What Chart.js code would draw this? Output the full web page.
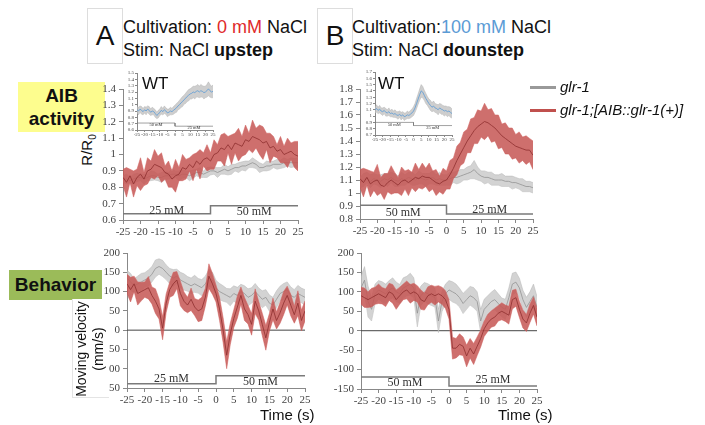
<!DOCTYPE html>
<html>
<head>
<meta charset="utf-8">
<script src="https://cdn.jsdelivr.net/npm/chart.js@4.4.0/dist/chart.umd.min.js"></script>
<style>
  body { margin: 0; background: #fff; width: 705px; height: 425px; overflow: hidden; position: relative;
         font-family: "Liberation Sans", Arial, sans-serif; color: #111; }
  .abs { position: absolute; white-space: nowrap; }
  canvas { position: absolute; }
  .letter { border: 1px solid #ddd; text-align: center; font-size: 28px; }
  .head { font-size: 18px; line-height: 23px; }
  .tag { font-weight: bold; font-size: 19px; text-align: center; }
  .rot { transform: rotate(-90deg); transform-origin: center center; text-align: center; }
  .leg { font-style: italic; font-size: 15px; }
</style>
</head>
<body>

<div class="abs letter" style="left:87px;top:8px;width:34px;height:54px;line-height:54px;">A</div>
<div class="abs head" style="left:123px;top:16px;">Cultivation: <span style="color:#e02a2a">0 mM</span> NaCl<br>Stim: NaCl <b>upstep</b></div>
<div class="abs letter" style="left:317px;top:8px;width:34px;height:54px;line-height:54px;">B</div>
<div class="abs head" style="left:352px;top:16px;">Cultivation:<span style="color:#5b9bd5">100 mM</span> NaCl<br>Stim: NaCl <b>dounstep</b></div>

<div class="abs tag" style="left:18px;top:82px;width:87px;height:50px;line-height:23px;background:#fdfd8e;padding-top:2px;box-sizing:border-box;">AIB<br>activity</div>
<div class="abs rot" style="left:68px;top:140px;width:40px;height:20px;font-size:15px;">R/R<sub style="font-size:10px">0</sub></div>
<div class="abs tag" style="left:9px;top:270px;width:93px;height:30px;line-height:30px;background:#9bbb59;">Behavior</div>

<canvas id="actUp" width="230" height="160" style="left:78px;top:80px;"></canvas>
<canvas id="actDown" width="228" height="159" style="left:315px;top:80px;"></canvas>
<canvas id="velUp" width="238" height="165" style="left:77px;top:245px;"></canvas>
<canvas id="velDown" width="236" height="166" style="left:311px;top:245px;"></canvas>
<canvas id="wtUpC" width="96" height="74" style="left:125px;top:66px;"></canvas>
<canvas id="wtDownC" width="98" height="80" style="left:362px;top:65px;"></canvas>

<div class="abs" style="left:142px;top:74px;font-size:17px;">WT</div>
<div class="abs" style="left:378px;top:74px;font-size:17px;">WT</div>

<div class="abs" style="left:72px;top:299px;width:36px;height:98px;background:#fff;border-left:1px solid #e4e4e4;border-bottom:1px solid #e4e4e4;"></div>
<div class="abs rot" style="left:38px;top:332px;width:104px;height:34px;font-size:14px;line-height:17px;">Moving velocity<br>(mm/s)</div>

<div class="abs" style="left:260px;top:406px;width:50px;text-align:right;font-size:15px;">Time (s)</div>
<div class="abs" style="left:498px;top:406px;width:50px;text-align:right;font-size:15px;">Time (s)</div>

<div class="abs" style="left:530px;top:86px;width:26px;height:3px;background:#999;"></div>
<div class="abs leg" style="left:560px;top:78px;">glr-1</div>
<div class="abs" style="left:530px;top:109px;width:26px;height:3px;background:#c0504d;"></div>
<div class="abs leg" style="left:560px;top:101px;">glr-1;[AIB::glr-1(+)]</div>

<script>
// time axis (s)
var times = [-25,-24,-23,-22,-21,-20,-19,-18,-17,-16,-15,-14,-13,-12,-11,-10,-9,-8,-7,-6,-5,-4,-3,-2,-1,
             0,1,2,3,4,5,6,7,8,9,10,11,12,13,14,15,16,17,18,19,20,21,22,23,24,25];

// AIB activity, upstep (A)
var upRed = [0.86,0.83,0.87,0.82,0.86,0.88,0.85,0.90,0.91,0.94, 0.93,0.92,0.89,0.88,0.85,0.87,0.88,0.92,0.91,0.94,
             0.92,0.96,0.94,0.97,0.98,0.96,1.00,1.01,1.04,1.03, 1.06,1.03,1.07,1.06,1.05,1.09,1.08,1.11,1.10,1.09,
             1.07,1.08,1.04,1.05,1.02,1.03,1.00,1.01,1.02,1.00, 0.99];
var upRedErr = [0.05,0.09,0.04,0.08,0.05,0.10,0.04,0.08,0.05,0.09, 0.06,0.09,0.04,0.08,0.05,0.10,0.04,0.08,0.06,0.04,
                0.08,0.05,0.09,0.04,0.08,0.05,0.09,0.05,0.08,0.10, 0.05,0.09,0.06,0.10,0.06,0.09,0.05,0.10,0.06,0.09,
                0.10,0.05,0.09,0.06,0.04,0.08,0.05,0.09,0.05,0.08, 0.09];
var upGray = [0.85,0.85,0.84,0.85,0.86,0.86,0.85,0.86,0.87,0.87, 0.86,0.86,0.87,0.87,0.88,0.88,0.87,0.88,0.88,0.87,
              0.88,0.89,0.89,0.88,0.89,0.90,0.90,0.89,0.90,0.91, 0.90,0.91,0.92,0.92,0.93,0.93,0.94,0.95,0.94,0.92,
              0.92,0.93,0.93,0.94,0.94,0.94,0.95,0.95,0.95,0.95, 0.95];
var upGrayErr = [0.02,0.03,0.02,0.03,0.025,0.02,0.03,0.02,0.03,0.025, 0.02,0.03,0.025,0.02,0.03,0.02,0.03,0.025,0.02,0.03,
                 0.025,0.02,0.03,0.02,0.03,0.025,0.02,0.03,0.02,0.03, 0.025,0.03,0.02,0.03,0.025,0.03,0.02,0.03,0.025,0.03,
                 0.02,0.03,0.025,0.02,0.03,0.025,0.03,0.02,0.03,0.025, 0.03];

// AIB activity, downstep (B)
var downRed = [1.11,1.08,1.12,1.07,1.09,1.10,1.06,1.05,1.08,1.10, 1.08,1.06,1.09,1.10,1.08,1.10,1.12,1.11,1.13,1.12,
               1.12,1.10,1.08,1.07,1.09,1.10,1.14,1.19,1.25,1.30, 1.35,1.40,1.44,1.48,1.51,1.53,1.55,1.54,1.52,1.50,
               1.47,1.44,1.42,1.40,1.38,1.36,1.35,1.34,1.33,1.33, 1.29];
var downRedErr = [0.07,0.11,0.06,0.10,0.07,0.12,0.06,0.10,0.07,0.11, 0.08,0.06,0.11,0.07,0.10,0.06,0.11,0.07,0.10,0.07,
                  0.11,0.07,0.10,0.06,0.10,0.07,0.11,0.08,0.11,0.09, 0.12,0.09,0.13,0.10,0.13,0.10,0.14,0.10,0.13,0.10,
                  0.13,0.09,0.12,0.10,0.12,0.09,0.12,0.09,0.11,0.09, 0.11];
var downGray = [1.08,1.10,1.12,1.09,1.11,1.10,1.09,1.11,1.10,1.12, 1.10,1.09,1.11,1.10,1.12,1.11,1.10,1.12,1.11,1.10,
                1.11,1.12,1.10,1.11,1.10,1.10,1.11,1.12,1.12,1.13, 1.14,1.15,1.16,1.18,1.15,1.13,1.12,1.12,1.11,1.10,
                1.10,1.10,1.09,1.09,1.08,1.08,1.07,1.06,1.05,1.05, 1.04];
var downGrayErr = [0.04,0.05,0.04,0.05,0.04,0.04,0.05,0.04,0.05,0.04, 0.05,0.04,0.05,0.04,0.04,0.05,0.04,0.05,0.04,0.05,
                   0.04,0.05,0.04,0.05,0.04,0.04,0.05,0.04,0.05,0.05, 0.04,0.05,0.05,0.07,0.05,0.04,0.05,0.04,0.05,0.04,
                   0.04,0.05,0.04,0.04,0.05,0.04,0.04,0.05,0.04,0.04, 0.04];

// Moving velocity (mm/s)
var velUpRed = [120,105,120,95,100,105,110,90,75,55, 5,70,105,120,130,95,75,65,80,60,
                50,55,85,140,120,95,55,0,-65,-10, 30,60,90,55,40,15,75,50,15,-20,
                20,55,25,45,70,90,65,40,70,25, 50];
var velUpRedErr = [25,32,20,30,24,20,29,22,32,26, 30,24,20,30,22,32,24,20,29,22,
                   28,30,23,32,27,22,30,32,35,28, 23,29,22,30,24,28,32,24,29,32,
                   23,28,22,27,30,24,28,22,32,27, 26];
var velUpGray = [135,125,115,120,125,130,135,145,160,165, 160,150,140,135,140,130,125,120,115,120,
                 115,110,120,135,130,110,100,95,90,85, 95,90,100,95,85,90,100,90,80,85,
                 70,65,80,95,100,105,90,85,95,90, 85];
var velUpGrayErr = [20,22,18,20,22,19,21,20,22,20, 21,19,20,22,18,20,21,19,20,22,
                    19,21,20,22,20,19,21,20,18,22, 20,21,19,20,22,20,21,19,22,20,
                    21,20,22,19,21,20,22,20,21,19, 20];
var velDownRed = [90,85,80,85,90,95,90,85,100,95, 80,90,100,105,95,100,95,80,75,90,
                  95,90,95,90,80,55,-45,-45,-35,-40, -65,-45,-60,-40,-20,5,20,30,35,45,
                  50,45,40,80,85,55,30,20,45,65, 35];
var velDownRedErr = [22,25,20,24,22,25,21,23,22,24, 25,22,20,23,24,22,21,25,22,23,
                     22,24,21,22,23,25,28,25,27,24, 28,25,27,24,22,20,22,21,23,20,
                     22,21,23,24,22,21,23,22,24,22, 23];
var velDownGray = [110,130,75,55,95,105,100,95,105,110, 100,95,110,115,120,110,45,90,100,95,
                   90,85,25,75,95,105,100,95,85,70, 80,90,85,75,25,55,65,75,80,70,
                   60,55,85,120,125,110,80,60,75,90, 60];
var velDownGrayErr = [30,35,40,30,25,24,26,25,24,26, 25,24,26,25,28,26,35,25,24,26,
                      25,24,30,26,25,24,26,25,24,26, 25,24,26,25,30,26,25,24,26,25,
                      24,26,25,28,26,25,24,26,25,30, 28];

// WT insets
var wtUp = [0.92,0.90,0.93,0.91,0.89,0.92,0.90,0.93,0.91,0.88, 0.90,0.89,0.86,0.83,0.85,0.88,0.91,0.89,0.92,0.90,
            0.87,0.88,0.90,0.89,0.91,0.93,0.95,0.98,1.00,1.03, 1.05,1.08,1.10,1.13,1.15,1.17,1.18,1.20,1.19,1.21,
            1.22,1.20,1.22,1.21,1.19,1.20,1.22,1.25,1.22,1.20, 1.21];
var wtUpErr = [0.05,0.06,0.05,0.06,0.05,0.05,0.06,0.05,0.06,0.05, 0.06,0.05,0.06,0.05,0.06,0.05,0.06,0.05,0.06,0.05,
               0.06,0.05,0.06,0.05,0.06,0.06,0.07,0.06,0.07,0.07, 0.08,0.07,0.08,0.08,0.09,0.08,0.09,0.09,0.10,0.09,
               0.10,0.09,0.10,0.09,0.10,0.09,0.10,0.11,0.10,0.09, 0.10];
var wtDown = [1.10,1.12,1.09,1.11,1.08,1.07,1.09,1.06,1.05,1.07, 1.04,1.05,1.03,1.04,1.02,1.01,1.03,1.00,1.02,0.99,
              1.00,1.02,1.01,1.03,1.05,1.08,1.13,1.20,1.27,1.34, 1.40,1.38,1.33,1.28,1.24,1.20,1.17,1.14,1.16,1.13,
              1.12,1.10,1.13,1.11,1.10,1.08,1.09,1.07,1.08,1.06, 1.04];
var wtDownErr = [0.05,0.06,0.05,0.06,0.05,0.06,0.05,0.06,0.05,0.06, 0.05,0.06,0.05,0.06,0.05,0.06,0.05,0.06,0.05,0.06,
                 0.05,0.06,0.05,0.06,0.06,0.07,0.07,0.08,0.08,0.09, 0.10,0.09,0.08,0.08,0.07,0.07,0.08,0.07,0.08,0.07,
                 0.07,0.08,0.07,0.08,0.07,0.08,0.07,0.08,0.07,0.08, 0.07];

// NaCl stimulus steps
var stimT = [-25, 0, 0, 25];
var stimActUp = [0.638, 0.638, 0.687, 0.687];
var stimActDown = [0.905, 0.905, 0.838, 0.838];
var stimVelUp = [-139, -139, -118, -118];
var stimVelDown = [-119, -119, -142, -142];
var stimWtUp = [0.71, 0.71, 0.66, 0.66];
var stimWtDown = [0.90, 0.90, 0.85, 0.85];
var concX = [-12.5, 12.5];
var concUp = ['25 mM', '50 mM'];
var concDown = ['50 mM', '25 mM'];
var concActUpY = [0.657, 0.648];
var concActDownY = [0.849, 0.869];
var concVelUpY = [-126, -133];
var concVelDownY = [-133, -126];
var concWtUpY = [0.675, 0.63];
var concWtDownY = [0.865, 0.815];

var zeroT = [-25, 25];
var zeroV = [0, 0];

function pts(xs, ys) {
  return xs.map(function(x, i) { return {x: x, y: ys[i]}; });
}
function band(mean, err, sign) {
  return mean.map(function(v, i) { return {x: times[i], y: v + sign * err[i]}; });
}

var concPlugin = {
  id: 'conc',
  afterDatasetsDraw: function(chart) {
    var o = chart.options.plugins.conc;
    if (!o || !o.text) return;
    var ctx = chart.ctx;
    ctx.save();
    ctx.fillStyle = '#333';
    ctx.font = o.size + 'px "Liberation Serif", serif';
    ctx.textAlign = 'center';
    ctx.textBaseline = 'middle';
    for (var i = 0; i < o.text.length; i++) {
      ctx.fillText(o.text[i], chart.scales.x.getPixelForValue(o.x[i]), chart.scales.y.getPixelForValue(o.y[i]));
    }
    ctx.restore();
  }
};

function fmt(v) { return String(Math.round(v * 10) / 10); }

function makeChart(id, o) {
  var sets = [];
  sets.push({data: pts(times, o.mainMean), borderColor: o.mainLine, borderWidth: 0.8, fill: false});
  sets.push({data: band(o.mainMean, o.mainErr, 1), borderColor: o.mainEdge, borderWidth: 0.6,
             backgroundColor: o.mainFill, fill: '+1'});
  sets.push({data: band(o.mainMean, o.mainErr, -1), borderColor: o.mainEdge, borderWidth: 0.6, fill: false});
  if (o.grayMean) {
    sets.push({data: pts(times, o.grayMean), borderColor: '#939393', borderWidth: 0.8, fill: false});
    sets.push({data: band(o.grayMean, o.grayErr, 1), borderColor: 'rgba(180,180,180,0.8)', borderWidth: 0.6,
               backgroundColor: 'rgba(196,196,196,0.75)', fill: '+1'});
    sets.push({data: band(o.grayMean, o.grayErr, -1), borderColor: 'rgba(180,180,180,0.8)', borderWidth: 0.6, fill: false});
  }
  sets.push({data: pts(stimT, o.stim), borderColor: '#7a7a7a', borderWidth: o.small ? 0.7 : 1.5, fill: false});
  if (o.zero) sets.push({data: pts(zeroT, zeroV), borderColor: '#444', borderWidth: 1, fill: false});

  var tickFont = {family: '"Liberation Serif", serif', size: o.small ? 5 : 11};
  return new Chart(document.getElementById(id), {
    type: 'line',
    data: {datasets: sets},
    options: {
      responsive: false,
      animation: false,
      layout: {padding: {left: 0, right: o.padR, top: o.padT, bottom: 0}},
      elements: {point: {radius: 0}, line: {tension: 0}},
      plugins: {
        legend: {display: false},
        tooltip: {enabled: false},
        conc: {text: o.concText, x: concX, y: o.concY, size: o.small ? 4.5 : 12}
      },
      scales: {
        x: {
          type: 'linear', min: -25, max: 25,
          ticks: {stepSize: 5, autoSkip: false, maxRotation: 0, font: tickFont, color: '#444', padding: o.small ? 0 : 2},
          grid: {drawOnChartArea: false, tickLength: o.small ? 2 : 4, color: '#888'},
          border: {color: '#888'},
          afterFit: function(s) { s.height = o.xh; s.paddingLeft = 0; s.paddingRight = 0; }
        },
        y: {
          min: o.ymin, max: o.ymax,
          ticks: {stepSize: o.step, autoSkip: false, font: tickFont, color: '#444', padding: o.small ? 1 : 3, callback: fmt},
          grid: {drawOnChartArea: false, tickLength: o.small ? 2 : 4, color: '#888'},
          border: {color: '#888'},
          afterFit: function(s) { s.width = o.yw; s.paddingTop = 0; s.paddingBottom = 0; }
        }
      }
    },
    plugins: [concPlugin]
  });
}

var redLine = '#8e2f2f', redEdge = 'rgba(210,100,98,0.9)', redFill = 'rgba(198,86,84,0.85)';

makeChart('actUp', {mainMean: upRed, mainErr: upRedErr, mainLine: redLine, mainEdge: redEdge, mainFill: redFill,
  grayMean: upGray, grayErr: upGrayErr, stim: stimActUp, concText: concUp, concY: concActUpY,
  ymin: 0.6, ymax: 1.4, step: 0.1, yw: 45, xh: 20, padT: 9, padR: 10});
makeChart('actDown', {mainMean: downRed, mainErr: downRedErr, mainLine: redLine, mainEdge: redEdge, mainFill: redFill,
  grayMean: downGray, grayErr: downGrayErr, stim: stimActDown, concText: concDown, concY: concActDownY,
  ymin: 0.8, ymax: 1.8, step: 0.1, yw: 45, xh: 20, padT: 9, padR: 10});
makeChart('velUp', {mainMean: velUpRed, mainErr: velUpRedErr, mainLine: redLine, mainEdge: redEdge, mainFill: redFill,
  grayMean: velUpGray, grayErr: velUpGrayErr, stim: stimVelUp, concText: concUp, concY: concVelUpY, zero: true,
  ymin: -150, ymax: 200, step: 50, yw: 50, xh: 22, padT: 8, padR: 10});
makeChart('velDown', {mainMean: velDownRed, mainErr: velDownRedErr, mainLine: redLine, mainEdge: redEdge, mainFill: redFill,
  grayMean: velDownGray, grayErr: velDownGrayErr, stim: stimVelDown, concText: concDown, concY: concVelDownY, zero: true,
  ymin: -150, ymax: 200, step: 50, yw: 50, xh: 22, padT: 8, padR: 10});
makeChart('wtUpC', {mainMean: wtUp, mainErr: wtUpErr, mainLine: '#5b9bd5', mainEdge: 'rgba(175,175,175,0.8)',
  mainFill: 'rgba(190,190,190,0.75)', stim: stimWtUp, concText: ['50 mM', '25 mM'], concY: concWtUpY, small: true,
  ymin: 0.6, ymax: 1.5, step: 0.1, yw: 12, xh: 10, padT: 7, padR: 8});
makeChart('wtDownC', {mainMean: wtDown, mainErr: wtDownErr, mainLine: '#5b9bd5', mainEdge: 'rgba(175,175,175,0.8)',
  mainFill: 'rgba(190,190,190,0.75)', stim: stimWtDown, concText: ['50 mM', '25 mM'], concY: concWtDownY, small: true,
  ymin: 0.7, ymax: 1.7, step: 0.1, yw: 13, xh: 10, padT: 7, padR: 8});
</script>
</body>
</html>
